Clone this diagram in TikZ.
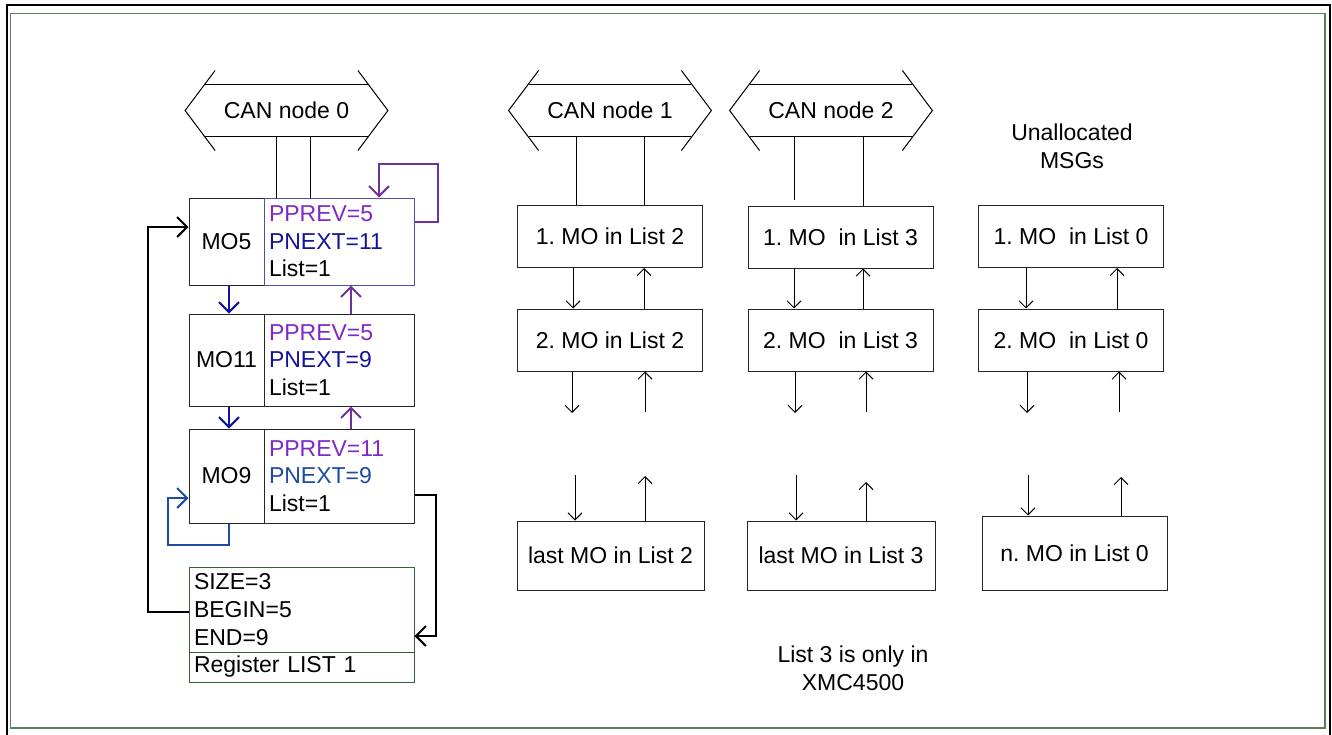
\documentclass[tikz,border=0pt]{standalone}
\usepackage{fontspec}
\setmainfont{Liberation Sans}
\usetikzlibrary{arrows.meta,calc}
\frenchspacing
\definecolor{ppurple}{RGB}{128,40,200}
\definecolor{apurple}{RGB}{112,48,160}
\definecolor{nblue}{RGB}{20,20,150}
\definecolor{lblue}{RGB}{30,75,165}
\definecolor{rgreen}{RGB}{50,100,50}
\definecolor{fgreen}{RGB}{90,130,90}
\begin{document}
\begin{tikzpicture}[x=0.5pt,y=-0.5pt,
 every node/.style={font=\fontsize{11.5}{13.8}\selectfont,inner sep=0pt},
 box/.style={draw=black!85,line width=0.5pt,minimum width=92.5pt,minimum height=31pt,align=center},
 mo/.style={draw=black!85,line width=0.5pt,minimum width=37.5pt},
 regs/.style={draw=black!85,line width=0.5pt,inner xsep=2.5pt,text width=70pt,align=left},
 bus/.style={minimum width=81pt,minimum height=26pt},
 wire/.style={line width=0.5pt},
 arr/.style={line width=0.5pt,-{Straight Barb[length=3.5pt,width=7pt]}},
 carr/.style={line width=1pt,-{Straight Barb[length=5pt,width=10pt]}}]
 \useasboundingbox (0,0) rectangle (1332,734);
 \draw [line width=1.3pt] (7,745) -- (7,5) -- (1330,5) -- (1330,745);
 \draw [fgreen,line width=0.8pt] (10.5,13.5) rectangle (1325,728);

 \node[bus](can0) at (286.5,110.5){CAN node 0};
 \node[bus](can1) at (610,110.5){CAN node 1};
 \node[bus](can2) at (831,110.5){CAN node 2};
 \node[align=center](unalloc) at (1072,146){Unallocated\\MSGs};

 \draw [wire] (can0.north west) -- (can0.north east);
 \draw [wire] (can0.south west) -- (can0.south east);
 \draw [wire] ($(can0.west)+(10,-40)$) -- ($(can0.west)+(-20,0)$) -- ($(can0.west)+(10,40)$);
 \draw [wire] ($(can0.east)+(-10,-40)$) -- ($(can0.east)+(20,0)$) -- ($(can0.east)+(-10,40)$);

 \draw [wire] (can1.north west) -- (can1.north east);
 \draw [wire] (can1.south west) -- (can1.south east);
 \draw [wire] ($(can1.west)+(10,-40)$) -- ($(can1.west)+(-20,0)$) -- ($(can1.west)+(10,40)$);
 \draw [wire] ($(can1.east)+(-10,-40)$) -- ($(can1.east)+(20,0)$) -- ($(can1.east)+(-10,40)$);

 \draw [wire] (can2.north west) -- (can2.north east);
 \draw [wire] (can2.south west) -- (can2.south east);
 \draw [wire] ($(can2.west)+(10,-40)$) -- ($(can2.west)+(-20,0)$) -- ($(can2.west)+(10,40)$);
 \draw [wire] ($(can2.east)+(-10,-40)$) -- ($(can2.east)+(20,0)$) -- ($(can2.east)+(-10,40)$);

 \node[mo,minimum height=43.5pt](mo5) at (226.5,241.5){MO5};
 \node[regs,draw=nblue!75,minimum height=43.5pt](mo5r) at (339,241.5){\textcolor{ppurple}{PPREV=5}\\\textcolor{nblue}{PNEXT=11}\\List=1};
 \node[mo,minimum height=46pt](mo11) at (226.5,360){MO11};
 \node[regs,minimum height=46pt](mo11r) at (339,360){\textcolor{ppurple}{PPREV=5}\\\textcolor{nblue}{PNEXT=9}\\List=1};
 \node[mo,minimum height=47pt](mo9) at (226.5,476){MO9};
 \node[regs,minimum height=47pt](mo9r) at (339,476){\textcolor{ppurple}{PPREV=11}\\\textcolor{lblue}{PNEXT=9}\\List=1};
 \node[regs,draw=rgreen,text width=107.5pt,minimum height=42.5pt](reg) at (301.5,609.5){SIZE=3\\BEGIN=5\\END=9};
 \node[regs,draw=rgreen,text width=107.5pt,minimum height=15pt](regname) at (301.5,667){Register LIST 1};

 \node[box](l2a) at (610,236.5){1. MO in List 2};
 \node[box](l2b) at (610,340){2. MO in List 2};
 \node[box,minimum width=93.5pt,minimum height=34.5pt](l2z) at (610.5,555.5){last MO in List 2};
 \node[box](l3a) at (840.5,237){1. MO\ \ in List 3};
 \node[box](l3b) at (840.5,340){2. MO\ \ in List 3};
 \node[box,minimum width=94pt,minimum height=34.5pt](l3z) at (841,555.5){last MO in List 3};
 \node[box](l0a) at (1071,236.5){1. MO\ \ in List 0};
 \node[box](l0b) at (1071,340){2. MO\ \ in List 0};
 \node[box,minimum height=37pt](l0z) at (1074.5,553){n. MO in List 0};
 \node[align=center](note) at (853,668.5){List 3 is only in\\XMC4500};

 \coordinate (l2d) at (572,413);
 \coordinate (l2u) at (645,412);
 \coordinate (l2e) at (575,475);
 \coordinate (l2v) at (645,476);
 \coordinate (l3d) at (795,413);
 \coordinate (l3u) at (866,412);
 \coordinate (l3e) at (796,475);
 \coordinate (l3v) at (866,482);
 \coordinate (l0d) at (1027,413);
 \coordinate (l0u) at (1119,412);
 \coordinate (l0e) at (1028,475);
 \coordinate (l0v) at (1121,477);

 \draw [wire] ([xshift=-5.25pt]can0.south) -- ([xshift=-5.25pt]can0.south |- mo5r.north);
 \draw [wire] ([xshift=11.75pt]can0.south) -- ([xshift=11.75pt]can0.south |- mo5r.north);
 \draw [wire] ([xshift=-17pt]can1.south) -- ([xshift=-17pt]can1.south |- l2a.north);
 \draw [wire] ([xshift=17pt]can1.south) -- ([xshift=17pt]can1.south |- l2a.north);
 \draw [wire,shorten >=3pt] ([xshift=-18.5pt]can2.south) -- ([xshift=-18.5pt]can2.south |- l3a.north);
 \draw [wire] ([xshift=16pt]can2.south) -- ([xshift=16pt]can2.south |- l3a.north);

 \draw [arr] ([xshift=-18.5pt]l2a.south) -- ([xshift=-18.5pt]l2a.south |- l2b.north);
 \draw [arr] ([xshift=17pt]l2b.north) -- ([xshift=17pt]l2b.north |- l2a.south);
 \draw [arr] ([xshift=-23.25pt]l3a.south) -- ([xshift=-23.25pt]l3a.south |- l3b.north);
 \draw [arr] ([xshift=11.25pt]l3b.north) -- ([xshift=11.25pt]l3b.north |- l3a.south);
 \draw [arr] ([xshift=-22.5pt]l0a.south) -- ([xshift=-22.5pt]l0a.south |- l0b.north);
 \draw [arr] ([xshift=23pt]l0b.north) -- ([xshift=23pt]l0b.north |- l0a.south);

 \draw [arr] (l2b.south -| l2d) -- (l2d);
 \draw [arr] (l2u) -- (l2u |- l2b.south);
 \draw [arr] (l2e) -- (l2e |- l2z.north);
 \draw [arr] (l2v |- l2z.north) -- (l2v);
 \draw [arr] (l3b.south -| l3d) -- (l3d);
 \draw [arr] (l3u) -- (l3u |- l3b.south);
 \draw [arr] (l3e) -- (l3e |- l3z.north);
 \draw [arr] (l3v |- l3z.north) -- (l3v);
 \draw [arr] (l0b.south -| l0d) -- (l0d);
 \draw [arr] (l0u) -- (l0u |- l0b.south);
 \draw [arr] (l0e) -- (l0e |- l0z.north);
 \draw [arr] (l0v |- l0z.north) -- (l0v);

 \draw [carr,nblue] ([xshift=1.25pt]mo5.south) -- ([xshift=1.25pt]mo5.south |- mo11.north);
 \draw [carr,nblue] ([xshift=1.25pt]mo11.south) -- ([xshift=1.25pt]mo11.south |- mo9.north);
 \draw [carr,apurple] ([xshift=6pt]mo11r.north) -- ([xshift=6pt]mo11r.north |- mo5r.south);
 \draw [carr,apurple] ([xshift=6pt]mo9r.north) -- ([xshift=6pt]mo9r.north |- mo11r.south);
 \draw [carr,apurple] ([yshift=9.75pt]mo5r.east) -- ++(23,0) -- ++(0,-58) -| ([xshift=20pt]mo5r.north);
 \draw [carr,lblue] ([xshift=1.25pt]mo9.south) -- ++(0,21) -- ++(-61,0) |- ([yshift=-11pt]mo9.west);
 \draw [carr] ([yshift=-9.5pt]mo9r.east) -- ++(21,0) |- ([yshift=-13.25pt]reg.east);
 \draw [carr] ([yshift=-1.25pt]reg.west) -- ++(-41,0) |- ([yshift=7.25pt]mo5.west);

\end{tikzpicture}
\end{document}
